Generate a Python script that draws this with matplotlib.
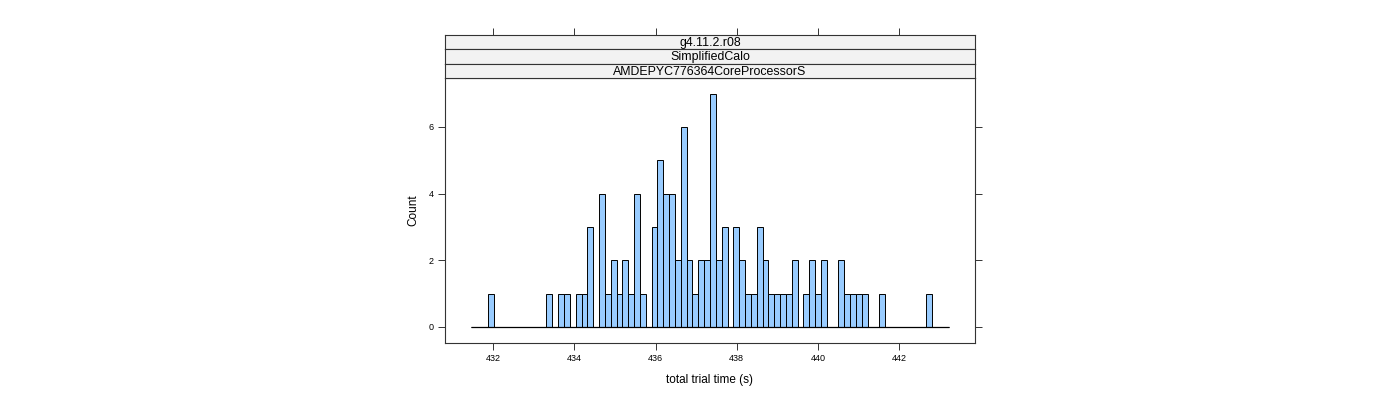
import numpy as np
import matplotlib
matplotlib.use("Agg")
import matplotlib.pyplot as plt

plt.rcParams['font.family'] = ['Liberation Sans', 'DejaVu Sans']

# histogram bins (lattice style, equal width) and counts
bin_start = 431.44
bin_end = 443.24
counts = [0, 0, 0, 1, 0, 0, 0, 0, 0, 0, 0, 0, 0, 1, 0, 1, 1, 0, 1, 1,
          3, 0, 4, 1, 2, 1, 2, 1, 4, 1, 0, 3, 5, 4, 4, 2, 6, 2, 1, 2,
          2, 7, 2, 3, 0, 3, 2, 1, 1, 3, 2, 1, 1, 1, 1, 2, 0, 1, 2, 1,
          2, 0, 0, 2, 1, 1, 1, 1, 0, 0, 1, 0, 0, 0, 0, 0, 0, 0, 1, 0,
          0, 0]
x_ticks = [432, 434, 436, 438, 440, 442]
y_ticks = [0, 2, 4, 6]
strips = ["g4.11.2.r08", "SimplifiedCalo", "AMDEPYC776364CoreProcessorS"]

edges = np.linspace(bin_start, bin_end, len(counts) + 1)
width = edges[1] - edges[0]

W, H = 1400, 400
fig = plt.figure(figsize=(W / 100, H / 100), dpi=100)

left, right, top, bottom = 445, 975, 78, 343
frame_col = '#333333'

ax = fig.add_axes([left / W, (H - bottom) / H, (right - left) / W, (bottom - top) / H])
ax.bar(edges[:-1], counts, width=width, align='edge', color='#99CCFF',
       edgecolor='black', linewidth=0.7)
# zero-height bins show up as a continuous baseline
ax.hlines(0, edges[0], edges[-1], color='black', linewidth=0.9)
ax.set_xlim(430.81, 443.87)
ax.set_ylim(-0.48, 7.47)
ax.set_xticks(x_ticks)
ax.set_yticks(y_ticks)
ax.tick_params(axis='both', direction='out', length=5, width=0.7, colors=frame_col,
               labelsize=6.5, labelcolor='black', pad=3)
ax.tick_params(axis='y', right=True)
for s in ax.spines.values():
    s.set_color(frame_col)
    s.set_linewidth(0.8)
ax.set_xlabel("total trial time (s)", fontsize=8.5, labelpad=8)
ax.set_ylabel("Count", fontsize=8.5, labelpad=7)

strip_h = (top - 35) / 3.0
for i, txt in enumerate(strips):
    y0 = 35 + i * strip_h
    sax = fig.add_axes([left / W, (H - y0 - strip_h) / H, (right - left) / W, strip_h / H])
    sax.set_facecolor('#F2F2F2')
    sax.set_xlim(ax.get_xlim())
    sax.set_ylim(0, 1)
    sax.set_yticks([])
    if i == 0:
        sax.set_xticks(x_ticks)
        sax.tick_params(axis='x', top=True, bottom=False, labeltop=False,
                        labelbottom=False, direction='out', length=5, width=0.7,
                        colors=frame_col)
    else:
        sax.set_xticks([])
    for s in sax.spines.values():
        s.set_color(frame_col)
        s.set_linewidth(0.8)
    sax.text(0.5, 0.45, txt, transform=sax.transAxes, ha='center', va='center',
             fontsize=8.9)

fig.savefig("out.png", dpi=100)
